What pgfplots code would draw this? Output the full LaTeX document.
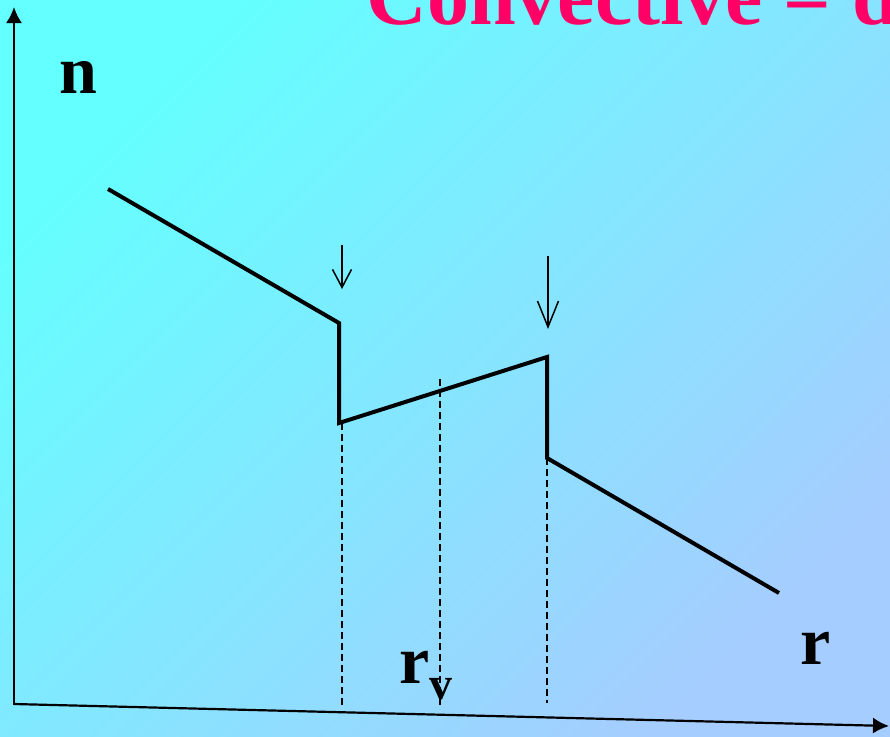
\documentclass[border=0pt]{standalone}
\usepackage{pgfplots}
\pgfplotsset{compat=1.18}
\usepackage{fontspec}
\setmainfont{Liberation Serif}
\usetikzlibrary{arrows.meta}

\definecolor{bgA}{RGB}{100,255,255}
\definecolor{bgB}{RGB}{165,205,255}
\definecolor{titlepink}{RGB}{255,0,102}

\begin{document}
\begin{tikzpicture}
\useasboundingbox (0,0) rectangle (445pt,368pt);
\clip (0,0) rectangle (445pt,368pt);
\begin{axis}[
  width=445pt, height=368pt, scale only axis,
  xmin=0, xmax=890, ymin=0, ymax=736, y dir=reverse,
  axis lines=none, ticks=none, clip=false,
  axis background/.style={top color=bgA, bottom color=bgB, shading angle=45},
]
% coordinate axes
\addplot[black, line width=1.1pt, -{Latex[length=8pt,width=8pt]}]
  coordinates {(14,705) (14,7)};
\addplot[black, line width=1.1pt, -{Latex[length=8pt,width=8pt]}]
  coordinates {(14,704) (889,726)};

% dashed guides
\addplot[black, line width=0.85pt, dash pattern=on 3.5pt off 2pt]
  coordinates {(342,423) (342,705)};
\addplot[black, line width=0.85pt, dash pattern=on 3.5pt off 2pt]
  coordinates {(440,379) (440,706)};
\addplot[black, line width=0.85pt, dash pattern=on 3.5pt off 2pt]
  coordinates {(547,458) (547,703)};

% density profile
\addplot[black, line width=2pt, line join=miter]
  coordinates {(108,189) (339,323) (339,423) (547,357) (547,458) (779,593)};

% markers at the jumps
\addplot[black, line width=0.75pt, -{Straight Barb[length=9pt,width=9.5pt]}]
  coordinates {(342,245) (342,289)};
\addplot[black, line width=0.75pt, -{Straight Barb[length=13pt,width=10.5pt]}]
  coordinates {(548,256) (548,329)};

% labels
\node[anchor=base west, inner sep=0pt, text=titlepink,
      font=\fontsize{42}{42}\selectfont\bfseries]
  at (axis cs:366,24) {Convective = d};
\node[anchor=base west, inner sep=0pt, font=\fontsize{34}{34}\selectfont\bfseries]
  at (axis cs:59,93) {n};
\node[anchor=base west, inner sep=0pt, font=\fontsize{34}{34}\selectfont\bfseries]
  at (axis cs:800,664) {r};
\node[anchor=base west, inner sep=0pt, font=\fontsize{34}{34}\selectfont\bfseries]
  at (axis cs:399,683) {r\raisebox{-8pt}{\fontsize{23}{23}\selectfont v}};
\end{axis}
\end{tikzpicture}
\end{document}
